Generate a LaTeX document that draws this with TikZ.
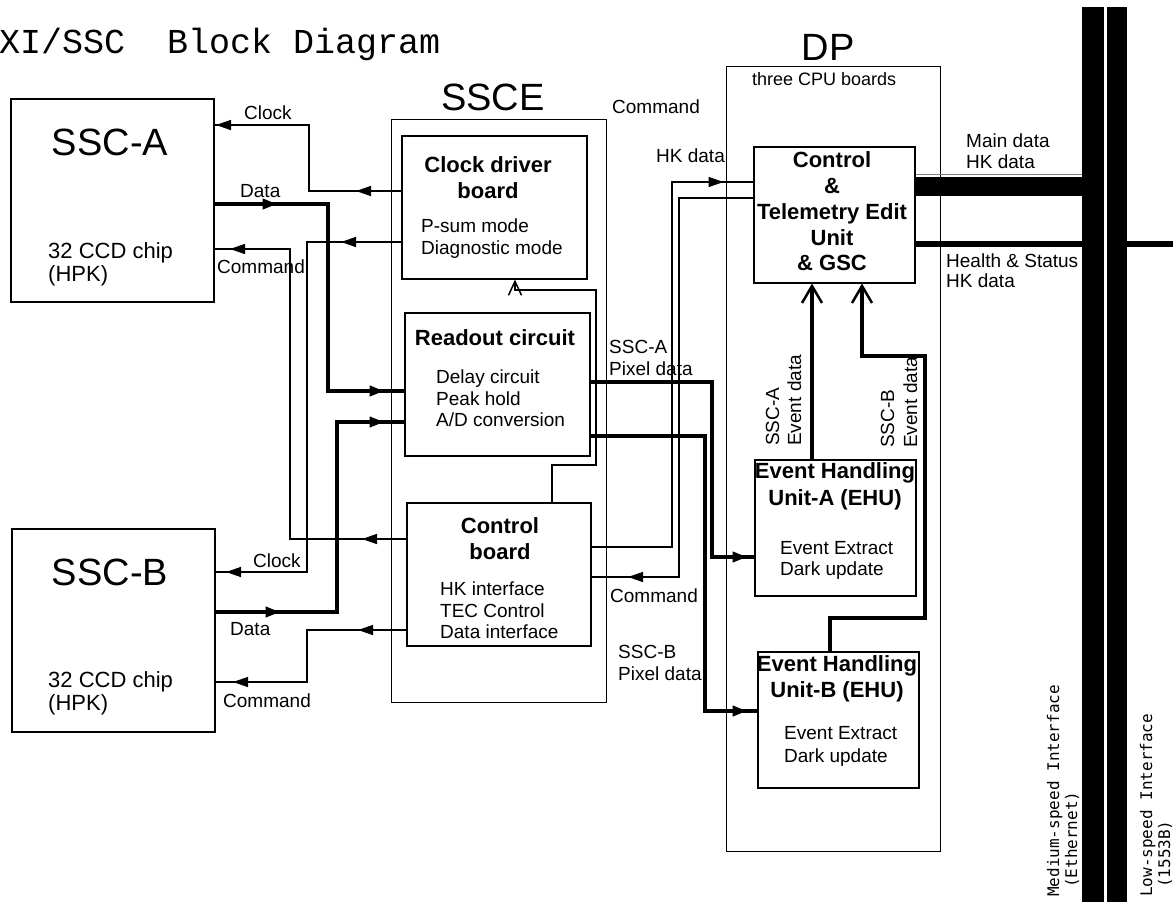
\documentclass[tikz,border=0pt]{standalone}
\usepackage{fontspec}
\setmainfont{Liberation Sans}
\newfontfamily\titlefont{Liberation Mono}
\newfontfamily\busfont{DejaVu Sans Mono}
\usetikzlibrary{arrows.meta,decorations.markings}
\begin{document}
\begin{tikzpicture}[x=1pt,y=-1pt,
  box/.style={draw, line width=1.5pt, inner sep=0, anchor=north west},
  obox/.style={draw, line width=1.3pt, inner sep=0, anchor=north west},
  bar/.style={fill=black, draw=none, inner sep=0, anchor=north west},
  lbl/.style={inner sep=0, anchor=base west, font=\fontsize{19}{22}\selectfont},
  ccd/.style={inner sep=0, anchor=base west, font=\fontsize{22}{26}\selectfont},
  btitle/.style={inner sep=0, anchor=base, font=\fontsize{22}{26}\selectfont\bfseries},
  big/.style={inner sep=0, anchor=base, font=\fontsize{38}{44}\selectfont},
  vlbl/.style={inner sep=0, anchor=base west, rotate=90, font=\fontsize{19}{22}\selectfont},
  buslbl/.style={inner sep=0, anchor=base west, rotate=90, font=\busfont\fontsize{16}{19}\selectfont},
  wire/.style={line width=1.4pt},
  fat/.style={line width=4pt},
  marrow/.style={postaction={decorate, decoration={markings, mark=at position #1 with {\arrow{Triangle[length=15pt,width=10pt]}}}}},
  barb/.style={-{Straight Barb[length=14pt,width=13pt,line width=1.5pt]}},
  fatbarb/.style={-{Straight Barb[length=17pt,width=20pt,line width=2.5pt]}}
]
\useasboundingbox (0,0) rectangle (1173,903);

% title
\node[anchor=base west, inner sep=0, font=\titlefont\fontsize{35}{40}\selectfont] (title) at (-1,53) {XI/SSC\ \ Block Diagram};

% boxes
\node[box, minimum width=203, minimum height=203] (sscA) at (10,98) {};
\node[box, minimum width=203, minimum height=203] (sscB) at (11,528) {};
\node[obox, minimum width=215, minimum height=583] (ssce) at (391,119) {};
\node[box, minimum width=185, minimum height=143] (cdb) at (401,135) {};
\node[box, minimum width=185, minimum height=143] (ro) at (404,312) {};
\node[box, minimum width=184, minimum height=143] (ctl) at (406,502) {};
\node[obox, minimum width=214, minimum height=785] (dp) at (726,66) {};
\node[box, minimum width=161, minimum height=136] (teu) at (753,146) {};
\node[box, minimum width=161, minimum height=136] (ehuA) at (754,459) {};
\node[box, minimum width=161, minimum height=136] (ehuB) at (757,651) {};
\node[bar, minimum width=22, minimum height=895] (busA) at (1082,7) {};
\node[bar, minimum width=20, minimum height=895] (busB) at (1107,7) {};
\coordinate (edgeR) at (1173,244);

% big labels
\node[big] (tA) at (110,155) {SSC-A};
\node[big] (tB) at (110,585) {SSC-B};
\node[big] (tSSCE) at (493,110) {SSCE};
\node[big] (tDP) at (828,60) {DP};

% SSC texts
\node[ccd] (a1) at (48,258) {32 CCD chip};
\node[ccd] (a2) at (48,281) {(HPK)};
\node[ccd] (b1) at (48,687) {32 CCD chip};
\node[ccd] (b2) at (48,710) {(HPK)};

% clock driver board
\node[btitle] (cd1) at (488,172) {Clock driver};
\node[btitle] (cd2) at (488,198) {board};
\node[lbl] (cd3) at (421,232) {P-sum mode};
\node[lbl] (cd4) at (421,254) {Diagnostic mode};

% readout circuit
\node[btitle] (ro1) at (495,345) {Readout circuit};
\node[lbl] (ro2) at (436,383) {Delay circuit};
\node[lbl] (ro3) at (436,405) {Peak hold};
\node[lbl] (ro4) at (436,426) {A/D conversion};

% control board
\node[btitle] (cb1) at (500,533) {Control};
\node[btitle] (cb2) at (500,559) {board};
\node[lbl] (cb3) at (440,595) {HK interface};
\node[lbl] (cb4) at (440,617) {TEC Control};
\node[lbl] (cb5) at (440,638) {Data interface};

% DP
\node[lbl, font=\fontsize{18}{21}\selectfont] (dp1) at (752,85) {three CPU boards};
\node[btitle] (te1) at (832,167) {Control};
\node[btitle] (te2) at (832,193) {\&};
\node[btitle] (te3) at (832,219) {Telemetry Edit};
\node[btitle] (te4) at (832,245) {Unit};
\node[btitle] (te5) at (832,270) {\& GSC};

\node[btitle] (ea1) at (835,478) {Event Handling};
\node[btitle] (ea2) at (835,505) {Unit-A (EHU)};
\node[lbl] (ea3) at (780,554) {Event Extract};
\node[lbl] (ea4) at (780,575) {Dark update};

\node[btitle] (eb1) at (837,671) {Event Handling};
\node[btitle] (eb2) at (837,697) {Unit-B (EHU)};
\node[lbl] (eb3) at (784,739) {Event Extract};
\node[lbl] (eb4) at (784,762) {Dark update};

% connector labels
\node[lbl] (l1) at (244,119) {Clock};
\node[lbl] (l2) at (240,197) {Data};
\node[lbl] (l3) at (217,273) {Command};
\node[lbl] (l4) at (253,567) {Clock};
\node[lbl] (l5) at (230,635) {Data};
\node[lbl] (l6) at (223,707) {Command};
\node[lbl] (l7) at (612,113) {Command};
\node[lbl] (l8) at (656,162) {HK data};
\node[lbl] (l9) at (609,353) {SSC-A};
\node[lbl] (l10) at (609,375) {Pixel data};
\node[lbl] (l11) at (610,602) {Command};
\node[lbl] (l12) at (618,658) {SSC-B};
\node[lbl] (l13) at (618,680) {Pixel data};
\node[lbl] (l14) at (966,147) {Main data};
\node[lbl] (l15) at (966,168) {HK data};
\node[lbl] (l16) at (946,267) {Health \& Status};
\node[lbl] (l17) at (946,287) {HK data};
\node[vlbl] (v1) at (779,446) {SSC-A};
\node[vlbl] (v2) at (801,446) {Event data};
\node[vlbl] (v3) at (894,448) {SSC-B};
\node[vlbl] (v4) at (917,448) {Event data};
\node[buslbl] (m1) at (1059,897) {Medium-speed Interface};
\node[buslbl] (m2) at (1077,888) {(Ethernet)};
\node[buslbl] (m3) at (1152,897) {Low-speed Interface};
\node[buslbl] (m4) at (1170,888) {(1553B)};

% left side thin connectors
\draw[wire, marrow=45pt, marrow=251pt] (cdb.west |- 0,191) -| (309,125) -- (sscA.east |- 0,125);
\draw[wire, marrow=44pt, marrow=466pt] (ctl.west |- 0,539) -| (290,249) -- (sscA.east |- 0,249);
\draw[wire, marrow=60pt, marrow=505pt] (cdb.west |- 0,242) -| (307,572) -- (sscB.east |- 0,572);
\draw[wire, marrow=48pt, marrow=225pt] (ctl.west |- 0,630) -| (307,682) -- (sscB.east |- 0,682);

% data lines
\draw[fat, marrow=63pt, marrow=357pt] (sscA.east |- 0,204) -| (328,391) -- (ro.west |- 0,391);
\draw[fat, marrow=65pt, marrow=359pt] (sscB.east |- 0,612) -| (337,422) -- (ro.west |- 0,422);

% control board -> clock driver
\draw[wire, barb] (ctl.north -| 552,0) -- (552,465) -| (596,290) -| (cdb.south -| 515,0);

% HK data and command between control board and TEU
\draw[wire, marrow=497pt] (ctl.east |- 0,547) -| (672,182) -- (teu.west |- 0,182);
\draw[wire, marrow=504pt] (teu.west |- 0,198) -| (679,577) -- (ctl.east |- 0,577);

% pixel data
\draw[fat, marrow=332pt] (ro.east |- 0,382) -| (712,557) -- (ehuA.west |- 0,557);
\draw[fat, marrow=432pt] (ro.east |- 0,436) -| (705,711) -- (ehuB.west |- 0,711);

% event data
\draw[fat, fatbarb] (ehuA.north -| 812,0) -- (teu.south -| 812,0);
\draw[fat, fatbarb] (ehuB.north -| 830,0) -- (830,618) -| (925,356) -| (teu.south -| 862,0);

% bus connections
\draw[line width=0.8pt, black!50] (teu.east |- 0,174) -- (busA.west |- 0,174);
\draw[line width=19pt] (teu.east |- 0,186.5) -- (busA.west |- 0,186.5);
\draw[line width=6pt] (teu.east |- 0,244) -- (busA.west |- 0,244);
\draw[line width=6pt] (busB.east |- 0,244) -- (edgeR);
\end{tikzpicture}
\end{document}
